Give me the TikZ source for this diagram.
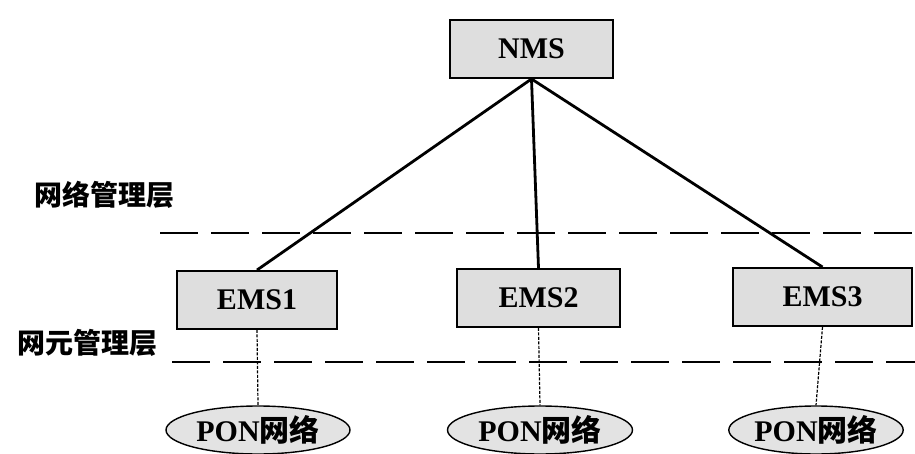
\documentclass[tikz,border=0pt]{standalone}
\usepackage{fontspec}
\setmainfont{Liberation Serif}
\newfontfamily\cjk{Noto Sans CJK SC}
\usetikzlibrary{shapes.geometric}
\begin{document}
\begin{tikzpicture}[x=1pt,y=1pt,
  mgrbox/.style={draw, line width=1.9pt, fill=gray!26, minimum height=58pt,
    inner sep=0pt, font=\fontsize{30}{33}\selectfont\bfseries},
  ponnet/.style={ellipse, draw, line width=1.4pt, fill=gray!22, minimum height=48pt,
    inner sep=0pt, font=\fontsize{30}{33}\selectfont\bfseries},
  layer/.style={font=\cjk\bfseries\fontsize{28}{31}\selectfont, inner sep=0pt},
  tie/.style={line width=2.8pt},
  leg/.style={dash pattern=on 3pt off 1.5pt, line width=1.2pt},
  boundary/.style={line width=2.8pt, dash pattern=on 38pt off 13pt}]
\useasboundingbox (0,0) rectangle (915,453);

% management hierarchy
\node[mgrbox, minimum width=163pt] (nms) at (531.5,404) {NMS};
\node[mgrbox, minimum width=160pt] (ems1) at (257,153) {EMS1};
\node[mgrbox, minimum width=163pt] (ems2) at (538.5,155) {EMS2};
\node[mgrbox, minimum width=179pt] (ems3) at (822.5,156) {EMS3};

% access networks
\node[ponnet, minimum width=184pt] (pon1) at (258,23) {PON{\cjk 网络}};
\node[ponnet, minimum width=185pt] (pon2) at (540,23) {PON{\cjk 网络}};
\node[ponnet, minimum width=162pt] (pon3) at (816,23) {PON{\cjk 网络}};

% layer labels
\node[layer] (lnms) at (104,258) {网络管理层};
\node[layer] (lems) at (87,110) {网元管理层};

% layer boundaries
\coordinate (b1l) at (160,220);
\coordinate (b1r) at (915,220);
\coordinate (b2l) at (172,91);
\coordinate (b2r) at (915,91);
\draw[boundary] (b1l) -- (b1r);
\draw[boundary] (b2l) -- (b2r);

% links
\draw[tie] (nms.south) -- (ems1.north);
\draw[tie] (nms.south) -- (ems2.north);
\draw[tie] (nms.south) -- (ems3.north);
\draw[leg] (ems1.south) -- (pon1.north);
\draw[leg] (ems2.south) -- (pon2.north);
\draw[leg] (ems3.south) -- (pon3.north);
\end{tikzpicture}
\end{document}
